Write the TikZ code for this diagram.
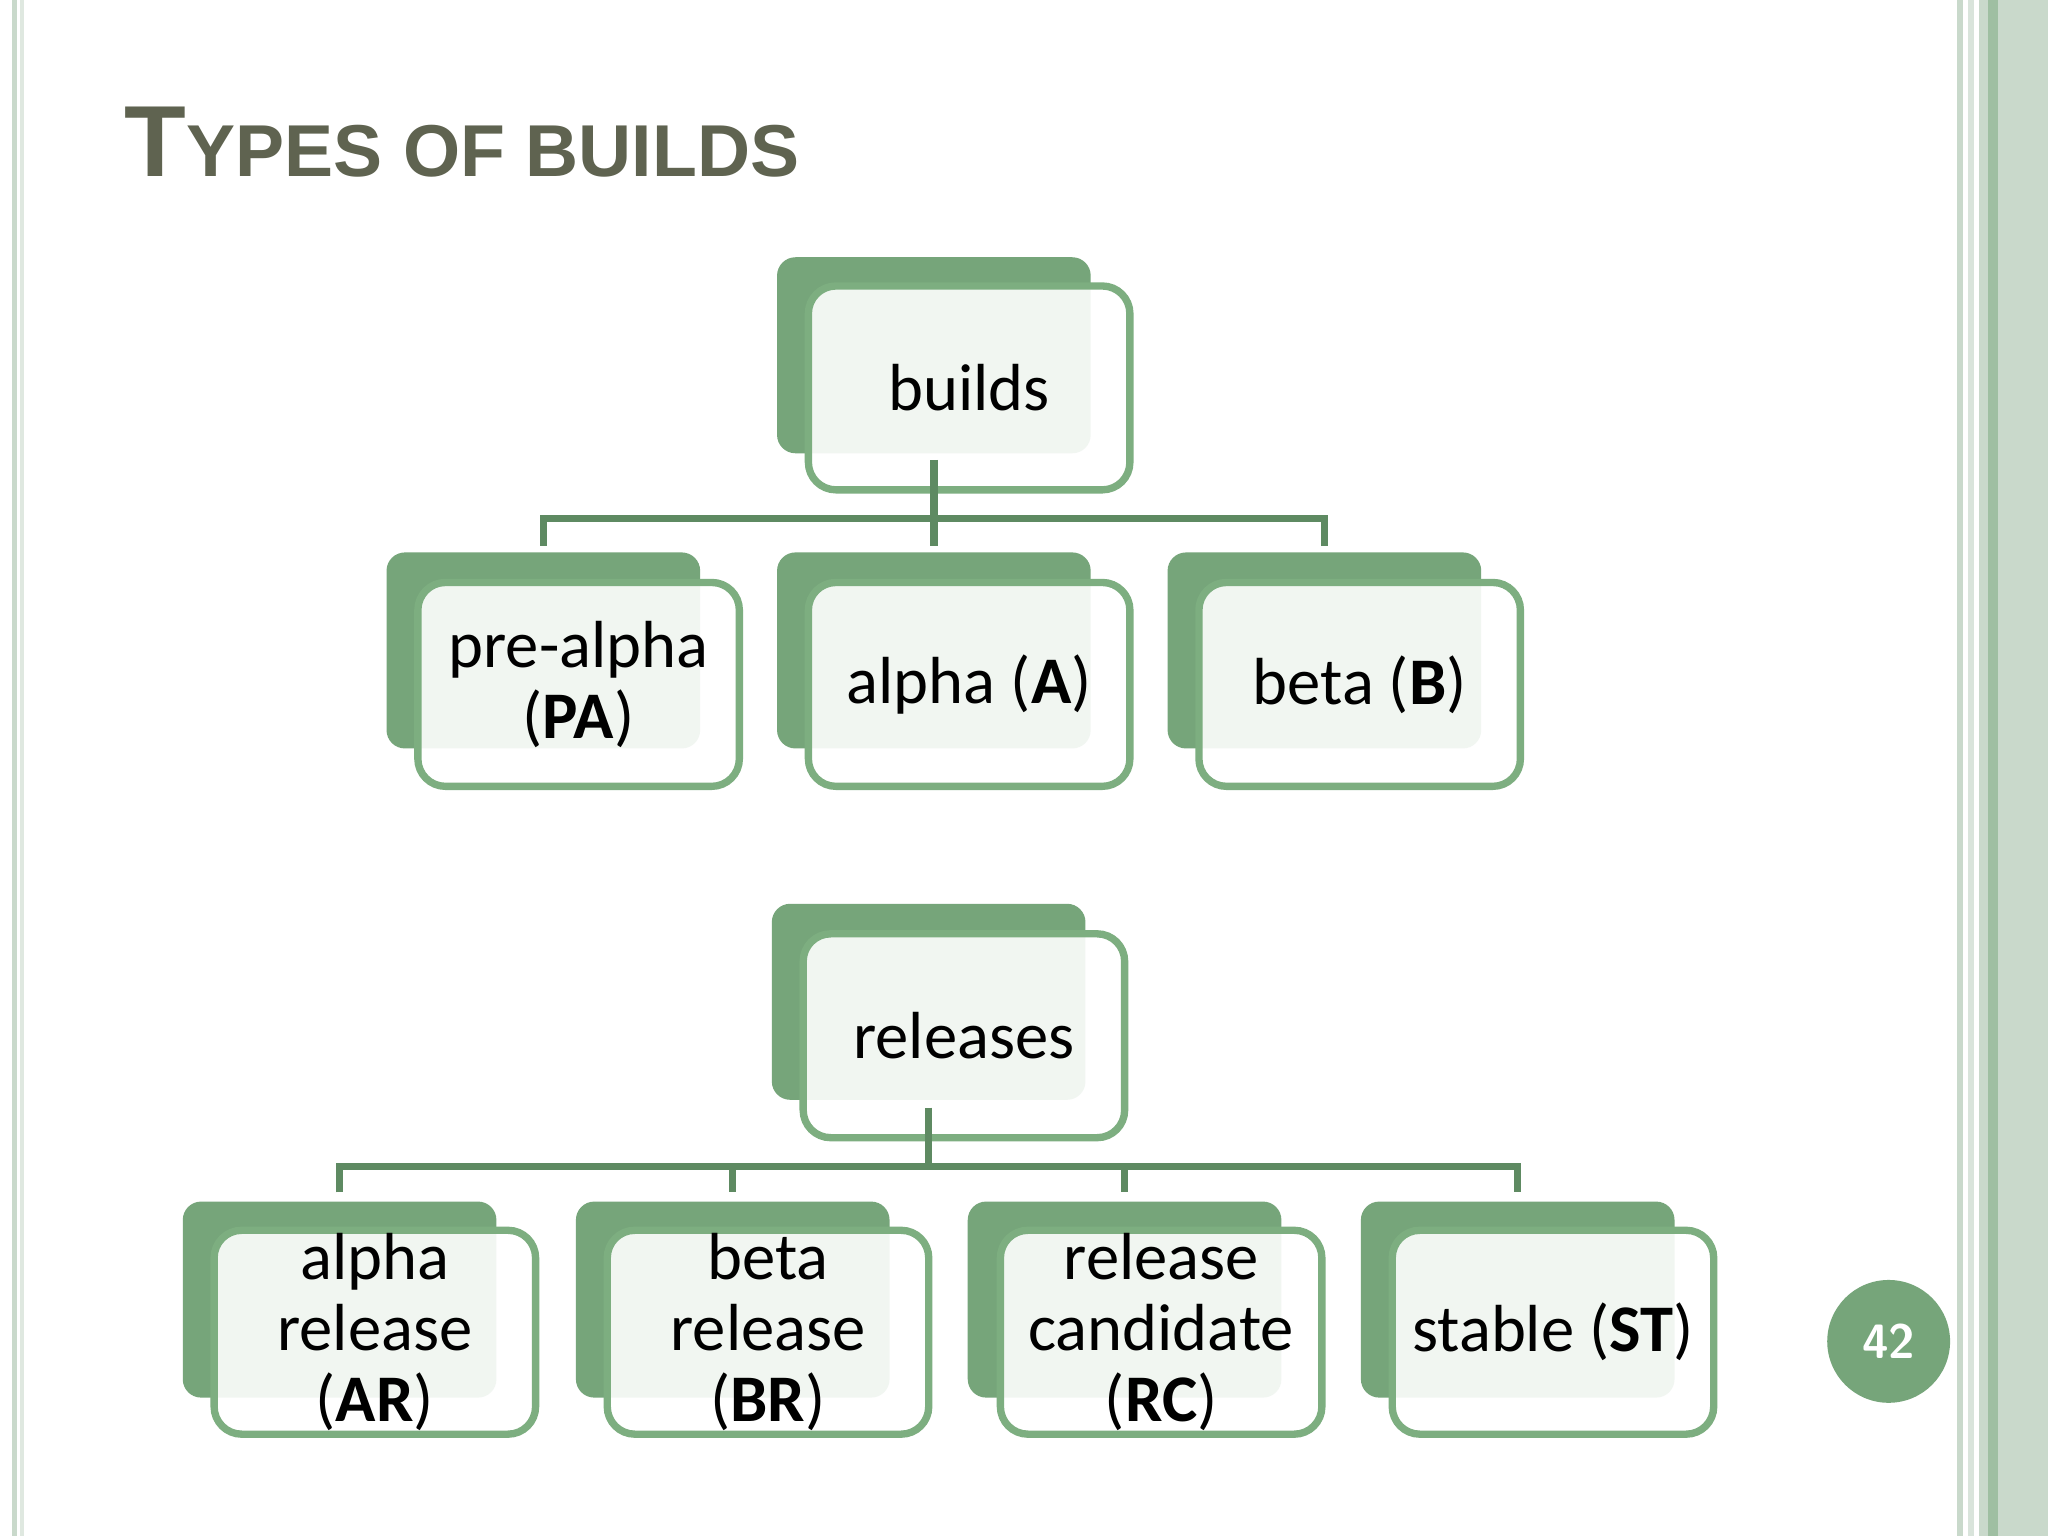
\documentclass[tikz,border=0pt]{standalone}
\usepackage{fontspec}
\setmainfont{Carlito}
\newfontfamily\titlefont{Liberation Sans}
\begin{document}
\begin{tikzpicture}[x=0.01cm,y=-0.01cm,
  back/.style={fill=backgreen,rounded corners=4pt,inner sep=0pt,minimum width=2.4cm,minimum height=1.5cm},
  front/.style={fill=white,fill opacity=0.9,text opacity=1,draw=boxgreen,line width=1.6pt,rounded corners=6pt,inner sep=0pt,minimum width=2.46cm,minimum height=1.56cm,align=center,font=\fontsize{14.5}{15.5}\selectfont},
  conn/.style={draw=connline,line width=1.6pt}]
\definecolor{backgreen}{HTML}{76A57A}
\definecolor{boxgreen}{HTML}{7DAE80}
\definecolor{connline}{HTML}{5E8A62}
\definecolor{titlecol}{HTML}{5F6350}
\definecolor{edge}{HTML}{C9D9CB}
\useasboundingbox (0,0) rectangle (1568,1176);
\fill[white] (0,0) rectangle (1568,1176);
% borders
\fill[edge] (9,0) rectangle (13,1176);
\fill[edge!60] (15,0) rectangle (18,1176);
\fill[edge] (1498,0) rectangle (1503,1176);
\fill[edge!70] (1507,0) rectangle (1511,1176);
\fill[edge] (1515,0) rectangle (1568,1176);
\fill[edge!50!backgreen] (1522,0) rectangle (1530,1176);
% title
\node[anchor=base west,inner sep=0pt,text=titlecol] (title) at (95,135)
  {\titlefont\bfseries\fontsize{22}{24}\selectfont T\fontsize{16}{18}\selectfont YPES OF BUILDS};
% top tree
\node[back] (bb) at (715,272) {};
\node[front] (b) at (742,297) {builds};
\node[back] (pab) at (416,498) {};
\node[front] (pa) at (443,524) {pre-alpha\\(\textbf{PA})};
\node[back] (ab) at (715,498) {};
\node[front] (a) at (742,524) {alpha (\textbf{A})};
\node[back] (bbb) at (1014,498) {};
\node[front] (be) at (1041,524) {beta (\textbf{B})};
\coordinate (bj) at (715,397);
\draw[conn] (715,352) -- (bj);
\draw[conn] (bj) -| (416,418);
\draw[conn] (bj) -| (1014,418);
\draw[conn] (bj) -- (715,418);
% bottom tree
\node[back] (rb) at (711,767) {};
\node[front] (r) at (738,793) {releases};
\node[back] (arb) at (260,995) {};
\node[front] (ar) at (287,1020) {alpha\\release\\(\textbf{AR})};
\node[back] (brb) at (561,995) {};
\node[front] (br) at (588,1020) {beta\\release\\(\textbf{BR})};
\node[back] (rcb) at (861,995) {};
\node[front] (rc) at (889,1020) {release\\candidate\\(\textbf{RC})};
\node[back] (stb) at (1162,995) {};
\node[front] (st) at (1189,1020) {stable (\textbf{ST})};
\coordinate (rj) at (711,893);
\draw[conn] (711,848) -- (rj);
\draw[conn] (260,913) |- (1162,893) -- (1162,913);
\draw[conn] (561,893) -- (561,913);
\draw[conn] (861,893) -- (861,913);
% page number
\node[circle,fill=backgreen,minimum size=0.94cm,inner sep=0pt,text=white,font=\sffamily\bfseries\fontsize{10.5}{12}\selectfont] (pg) at (1446,1027) {42};
\end{tikzpicture}
\end{document}
